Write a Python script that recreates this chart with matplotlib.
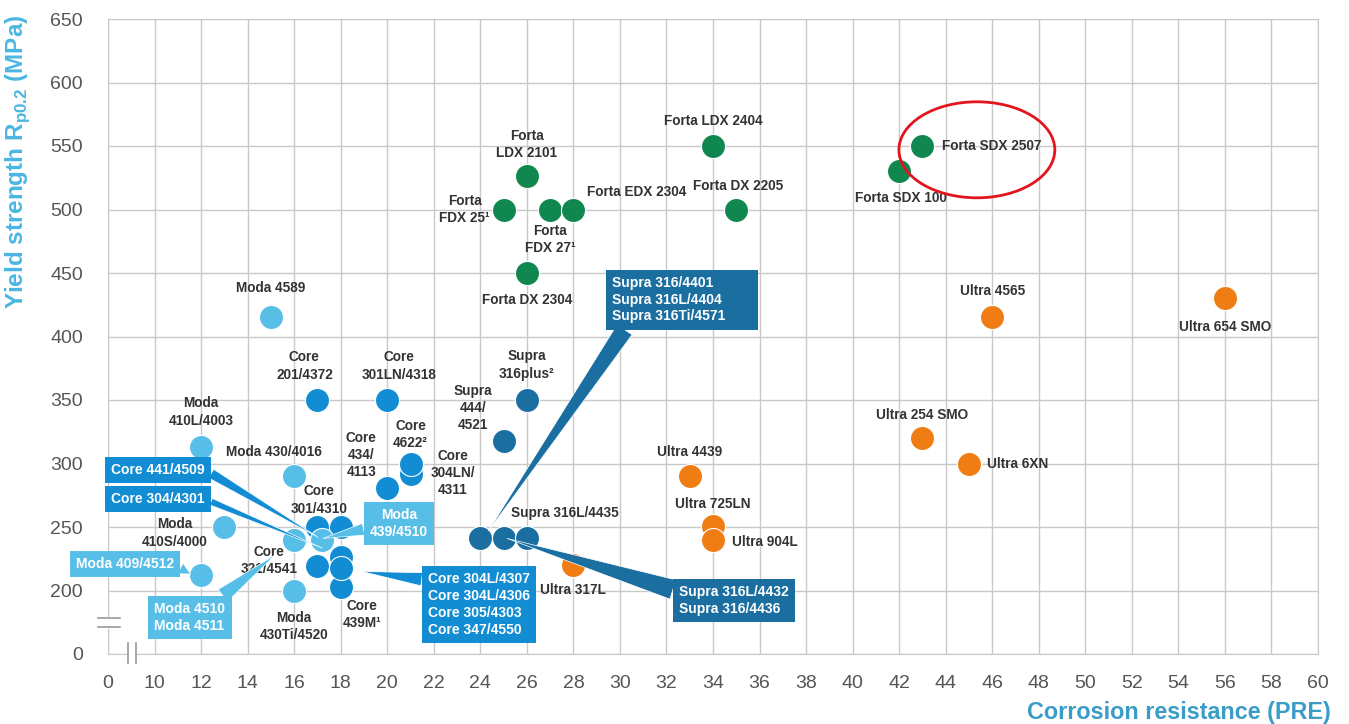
import matplotlib
matplotlib.use("Agg")
import matplotlib.pyplot as plt
from matplotlib.patches import Ellipse

plt.rcParams['font.family'] = ['Liberation Sans', 'DejaVu Sans']
plt.rcParams['mathtext.fontset'] = 'custom'
plt.rcParams['mathtext.rm'] = 'Liberation Sans'
plt.rcParams['mathtext.bf'] = 'Liberation Sans:bold'

# Broken axes: PRE "0" is drawn at 8, yield "0" is drawn at 150
x_ticks = [8] + list(range(10, 61, 2))
x_ticklabels = ['0'] + [str(v) for v in range(10, 61, 2)]
y_ticks = [150] + list(range(200, 651, 50))
y_ticklabels = ['0'] + [str(v) for v in range(200, 651, 50)]

# --- data (PRE, yield strength MPa) ---
forta_names = ["Forta\nFDX 25¹", "Forta\nLDX 2101", "Forta\nFDX 27¹", "Forta EDX 2304",
               "Forta DX 2304", "Forta LDX 2404", "Forta DX 2205", "Forta SDX 2507",
               "Forta SDX 100"]
forta_pre = [25, 26, 27, 28, 26, 34, 35, 43, 42]
forta_ys = [500, 526, 500, 500, 450, 550, 500, 550, 530]

ultra_names = ["Ultra 4565", "Ultra 654 SMO", "Ultra 254 SMO", "Ultra 6XN",
               "Ultra 4439", "Ultra 725LN", "Ultra 904L", "Ultra 317L"]
ultra_pre = [46, 56, 43, 45, 33, 34, 34, 28]
ultra_ys = [415, 430, 320, 300, 290, 251, 240, 220]

supra_names = ["Supra\n316plus²", "Supra\n444/\n4521", "Supra 316/4401",
               "Supra 316L/4432", "Supra 316L/4435"]
supra_pre = [26, 25, 24, 25, 26]
supra_ys = [350, 318, 241, 241, 241]

core_names = ["Core\n201/4372", "Core\n301LN/4318", "Core\n434/\n4113", "Core\n304LN/\n4311",
              "Core\n4622²", "Core\n301/4310", "Core 441/4509", "Core\n321/4541",
              "Core\n439M¹", "Core 304/4301", "Core 304L/4307"]
core_pre = [17, 20, 20, 21, 21, 17, 18, 17, 18, 18, 18]
core_ys = [350, 350, 281, 292, 300, 250, 250, 219, 203, 226, 218]

moda_names = ["Moda 4589", "Moda\n410L/4003", "Moda 430/4016", "Moda\n410S/4000",
              "Moda 409/4512", "Moda\n430Ti/4520", "Moda 4510/4511", "Moda 439/4510"]
moda_pre = [15, 12, 16, 13, 12, 16, 16, 17.2]
moda_ys = [415, 313, 290, 250, 212, 200, 240, 240]

# colours
c_moda = "#57bee8"
c_core = "#128dd3"
c_supra = "#1a6ea0"
c_forta = "#10874f"
c_ultra = "#ef7d14"

# label offsets in pixels (dx, dy, ha); names not listed get a callout box
label_pos = {
    "Forta\nFDX 25¹": (-39, 0, 'center'), "Forta\nLDX 2101": (0, 32, 'center'),
    "Forta\nFDX 27¹": (0, -30, 'center'), "Forta EDX 2304": (63, 18, 'center'),
    "Forta DX 2304": (0, -27, 'center'), "Forta LDX 2404": (0, 25, 'center'),
    "Forta DX 2205": (2, 24, 'center'), "Forta SDX 2507": (20, 0, 'left'),
    "Forta SDX 100": (2, -27, 'center'),
    "Ultra 4565": (0, 26, 'center'), "Ultra 654 SMO": (0, -29, 'center'),
    "Ultra 254 SMO": (0, 23, 'center'), "Ultra 6XN": (18, -1, 'left'),
    "Ultra 4439": (0, 24, 'center'), "Ultra 725LN": (0, 22, 'center'),
    "Ultra 904L": (19, -2, 'left'), "Ultra 317L": (0, -25, 'center'),
    "Supra\n316plus²": (0, 35, 'center'), "Supra\n444/\n4521": (-31, 33, 'center'),
    "Supra 316L/4435": (38, 25, 'center'),
    "Core\n201/4372": (-13, 34, 'center'), "Core\n301LN/4318": (12, 34, 'center'),
    "Core\n434/\n4113": (-26, 33, 'center'), "Core\n4622²": (0, 29, 'center'),
    "Core\n304LN/\n4311": (42, 1, 'center'), "Core\n301/4310": (2, 27, 'center'),
    "Core\n321/4541": (-48, 6, 'center'), "Core\n439M¹": (21, -28, 'center'),
    "Moda 4589": (0, 29, 'center'), "Moda\n410L/4003": (0, 35, 'center'),
    "Moda 430/4016": (-20, 24, 'center'), "Moda\n410S/4000": (-50, -6, 'center'),
    "Moda\n430Ti/4520": (0, -36, 'center'),
}

# callout boxes: text, box centre, wedge tip, colour, relpos, wedge width
callouts = [
    ("Core 441/4509", (10.15, 295), (17.02, 242), c_core, (1, 0.5), 0.72),
    ("Core 304/4301", (10.15, 272), (17.2, 233.5), c_core, (1, 0.5), 0.5),
    ("Moda\n439/4510", (20.5, 253), (17.24, 241), c_moda, (0, 0.35), 0.86),
    ("Moda 409/4512", (8.73, 221), (11.55, 213), c_moda, (1, 0.4), 0.86),
    ("Moda 4510\nModa 4511", (11.52, 179), (15.18, 228), c_moda, (0.85, 1), 1.1),
    ("Core 304L/4307\nCore 304L/4306\nCore 305/4303\nCore 347/4550", (23.94, 189),
     (18.9, 215), c_core, (0, 0.88), 0.95),
    ("Supra 316/4401          \nSupra 316L/4404\nSupra 316Ti/4571", (32.67, 429),
     (24.35, 247), c_supra, (0.12, 0), 1.3),
    ("Supra 316L/4432\nSupra 316/4436", (34.9, 192), (25.15, 241), c_supra, (0, 0.8), 1.45),
]


def dibujaSerie(ax, names, pre, ys, color):
    ax.scatter(pre, ys, s=300, color=color, edgecolor='white', linewidth=0.8, zorder=3)
    for n, x, y in zip(names, pre, ys):
        if n in label_pos:
            dx, dy, ha = label_pos[n]
            ax.annotate(n, (x, y), xytext=(dx, dy), textcoords='offset pixels',
                        ha=ha, va='center', fontsize=9.8, fontweight='bold',
                        color='#333333', linespacing=1.28, zorder=4)


fig = plt.figure(figsize=(13.49, 7.24), dpi=100)
ax = fig.add_axes([108 / 1349, 1 - 654 / 724, 1210 / 1349, 635 / 724])
ax.set_xlim(8, 60)
ax.set_ylim(150, 650)
ax.set_xticks(x_ticks)
ax.set_xticklabels(x_ticklabels)
ax.set_yticks(y_ticks)
ax.set_yticklabels(y_ticklabels)
ax.tick_params(length=0, labelsize=14, labelcolor='#555555')
ax.tick_params(axis='y', pad=18)
ax.tick_params(axis='x', pad=15)
ax.grid(True, color='#c9c9c9', linewidth=1)
ax.set_axisbelow(True)
for sp in ax.spines.values():
    sp.set_color('#c9c9c9')

dibujaSerie(ax, forta_names, forta_pre, forta_ys, c_forta)
dibujaSerie(ax, ultra_names, ultra_pre, ultra_ys, c_ultra)
dibujaSerie(ax, supra_names, supra_pre, supra_ys, c_supra)
dibujaSerie(ax, core_names, core_pre, core_ys, c_core)
dibujaSerie(ax, moda_names, moda_pre, moda_ys, c_moda)

for txt, box, tip, col, rp, w in callouts:
    ax.annotate(txt, tip, xytext=box, textcoords='data', ha='center', va='center',
                multialignment='left' if not txt.startswith("Moda\n") else 'center',
                fontsize=10, fontweight='bold', color='white', linespacing=1.25, zorder=5,
                bbox=dict(boxstyle='square,pad=0.45', fc=col, ec='none'),
                arrowprops=dict(arrowstyle='wedge,tail_width=%s,shrink_factor=0.5' % w,
                                fc=col, ec='white', lw=0.5, relpos=rp,
                                shrinkA=0, shrinkB=0, mutation_scale=10))

# red highlight around Forta SDX 2507
ax.add_patch(Ellipse((45.34, 547), width=6.7, height=75.6, fill=False,
                     edgecolor='#e3141b', linewidth=2, zorder=6))

# axis break marks
for yy in (178.3, 171.3):
    ax.plot([7.57, 8.52], [yy, yy], color='#9a9a9a', lw=1.2, clip_on=False, zorder=6)
ax.plot([8, 8], [171.6, 178.0], color='white', lw=2, clip_on=False, zorder=5)
for xx in (8.86, 9.2):
    ax.plot([xx, xx], [142.9, 158.7], color='#9a9a9a', lw=1.2, clip_on=False, zorder=6)
ax.plot([8.9, 9.16], [150, 150], color='white', lw=2, clip_on=False, zorder=5)

fig.text(18 / 1349, 1 - 162 / 724, r"Yield strength R$_{\mathbf{p0.2}}$ (MPa)",
         rotation=90, ha='center', va='center', fontsize=17.5, fontweight='bold',
         color='#4bb6e3')
fig.text(1331 / 1349, 1 - 712 / 724, "Corrosion resistance (PRE)", ha='right',
         va='center', fontsize=16.8, fontweight='bold', color='#3a9cc8')

fig.savefig("out.png", dpi=100)
